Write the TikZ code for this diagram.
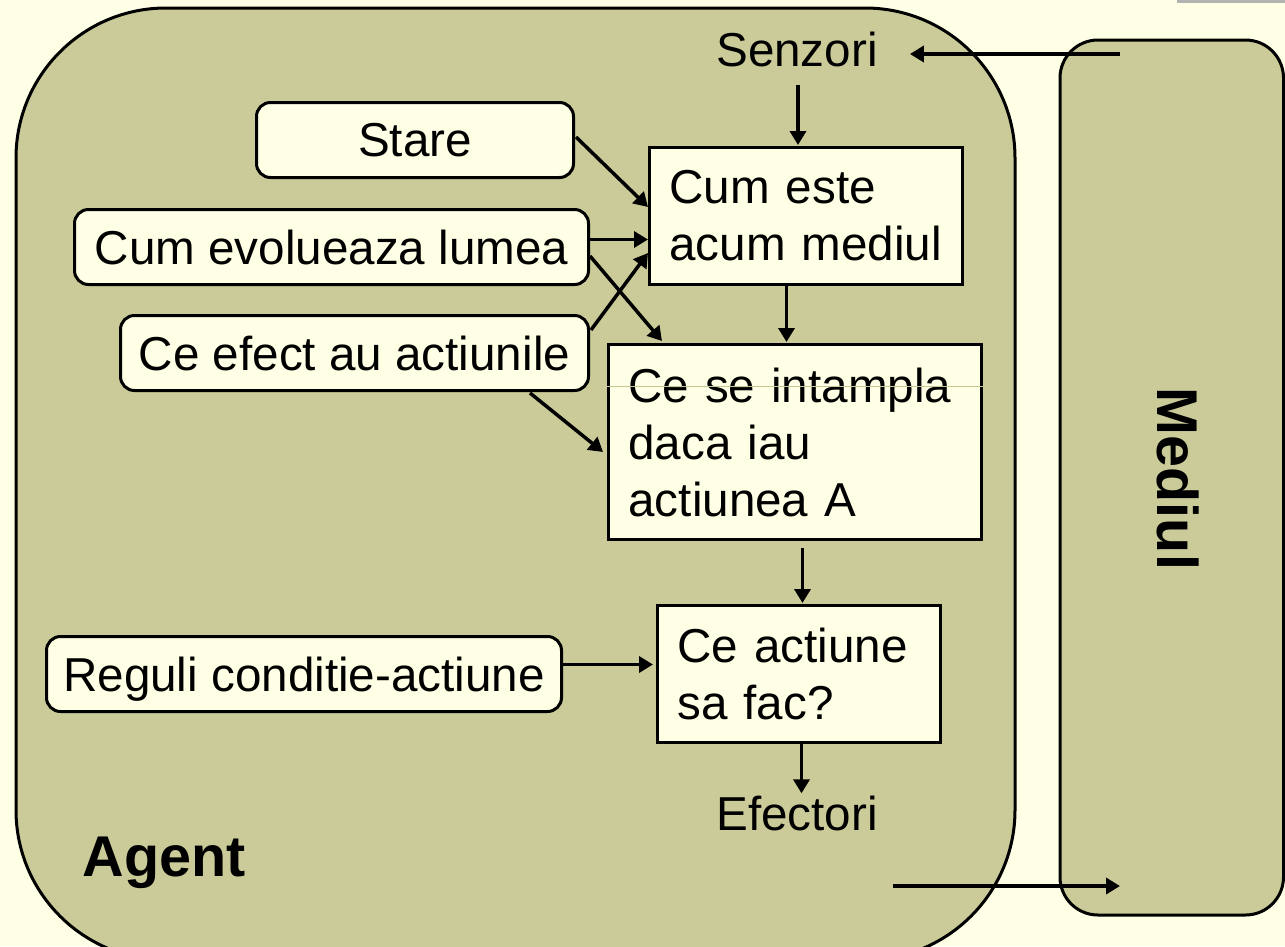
\documentclass[tikz,border=0pt]{standalone}
\usepackage{fontspec}
\setmainfont{Liberation Sans}
\usetikzlibrary{calc,arrows.meta}
\definecolor{bgc}{RGB}{255,255,229}
\definecolor{agentc}{RGB}{203,203,154}
\definecolor{barc}{RGB}{178,178,178}
\definecolor{thinc}{RGB}{200,200,150}
\tikzset{
  txt/.style={font=\fontsize{47.6}{57}\selectfont, inner sep=0pt},
  rbox/.style={draw=black, line width=3pt, fill=bgc, rounded corners=14pt, anchor=north west,
    font=\fontsize{47.6}{57}\selectfont, inner sep=0pt, text depth=0pt},
  sbox/.style={draw=black, line width=3pt, fill=bgc, anchor=north west,
    font=\fontsize{47.6}{57}\selectfont, inner xsep=20pt, inner ysep=0pt, align=left},
  arr/.style={line width=3.5pt, -{Triangle[length=14pt,width=16pt]}},
  big/.style={font=\fontsize{57.5}{66}\selectfont\bfseries, inner sep=0pt, text depth=0pt}
}
\begin{document}
\begin{tikzpicture}[x=1pt,y=-1pt]
\useasboundingbox (0,0) rectangle (1285,946);
\fill[bgc] (0,0) rectangle (1285,946);
\fill[barc] (1177,0) rectangle (1285,3);
% Agent
\draw[line width=3pt, fill=agentc, rounded corners=150pt] (16,8) rectangle (1015,960);
% Mediul
\draw[line width=3pt, fill=agentc, rounded corners=38pt] (1060,40) rectangle (1283.5,915);
\node[big, rotate=-90] (mediul) at (1178,479) {Mediul};
\node[big] (agent) at (164,856.5) {Agent};

% text nodes
\node[txt] (senzori) at (797,49) {Senzori};
\node[txt] (efectori) at (797,813) {Efectori};

% rounded boxes
\node[rbox, minimum width=317pt, minimum height=75pt] (stare) at (255,101) {Stare};
\node[rbox, minimum width=514pt, minimum height=75pt] (evol) at (73,208) {Cum evolueaza lumea};
\node[rbox, minimum width=468pt, minimum height=75pt] (efect) at (119,314) {Ce efect au actiunile};
\node[rbox, minimum width=515pt, minimum height=75pt] (reguli) at (45,635) {Reguli conditie-actiune};

% square boxes
\node[sbox, text width=273pt, minimum height=137pt] (cumeste) at (648,146) {Cum este\\acum mediul};
\node[sbox, text width=333pt, minimum height=195pt] (cese) at (607,343) {Ce se intampla\\daca iau\\actiunea A};
\draw[thinc, line width=1pt] ($(cese.north west)+(0,43)$) -- ($(cese.north east)+(0,43)$);
\node[sbox, text width=243pt, minimum height=137pt] (caction) at (656,604) {Ce actiune\\sa fac?};

% free coordinates
\coordinate (mIn) at (1120,54);
\coordinate (mOut) at (1120,886);
\coordinate (effOut) at (893,886);

% connectors
\draw[arr] (mIn) -- ($(senzori.east)+(32,5)$);
\coordinate (s1) at ($(senzori.south)+(1,18)$);
\draw[arr] (s1) -- ($(s1 |- cumeste.north)+(0,-1)$);
\draw[arr] ($(stare.east)+(1,-3)$) -- ($(cumeste.west)+(0,-9)$);
\coordinate (e1) at ($(evol.east)+(0,-7.5)$);
\draw[arr] (e1) -- (e1 -| cumeste.west);
\draw[arr] ($(evol.east)+(0,9)$) -- ($(cese.north west)+(55,-2)$);
\draw[arr] ($(efect.east)+(1,-23)$) -- ($(cumeste.west)+(0,37)$);
\draw[arr] ($(efect.south east)+(-60,1)$) -- ($(cese.west)+(-4,10)$);
\coordinate (c1) at ($(cumeste.south)+(-19.5,0)$);
\draw[arr] (c1) -- ($(c1 |- cese.north)+(0,-1)$);
\coordinate (c2) at ($(cese.south)+(7.5,7)$);
\draw[arr] (c2) -- ($(c2 |- caction.north)+(0,-1)$);
\coordinate (r1) at ($(reguli.east)+(0,-9.5)$);
\draw[arr] (r1) -- ($(r1 -| caction.west)+(-3,0)$);
\coordinate (a1) at ($(caction.south)+(2.5,0)$);
\draw[arr] (a1) -- ($(a1 |- efectori.north)+(0,-2)$);
\draw[arr] (effOut) -- (mOut);
\end{tikzpicture}
\end{document}
